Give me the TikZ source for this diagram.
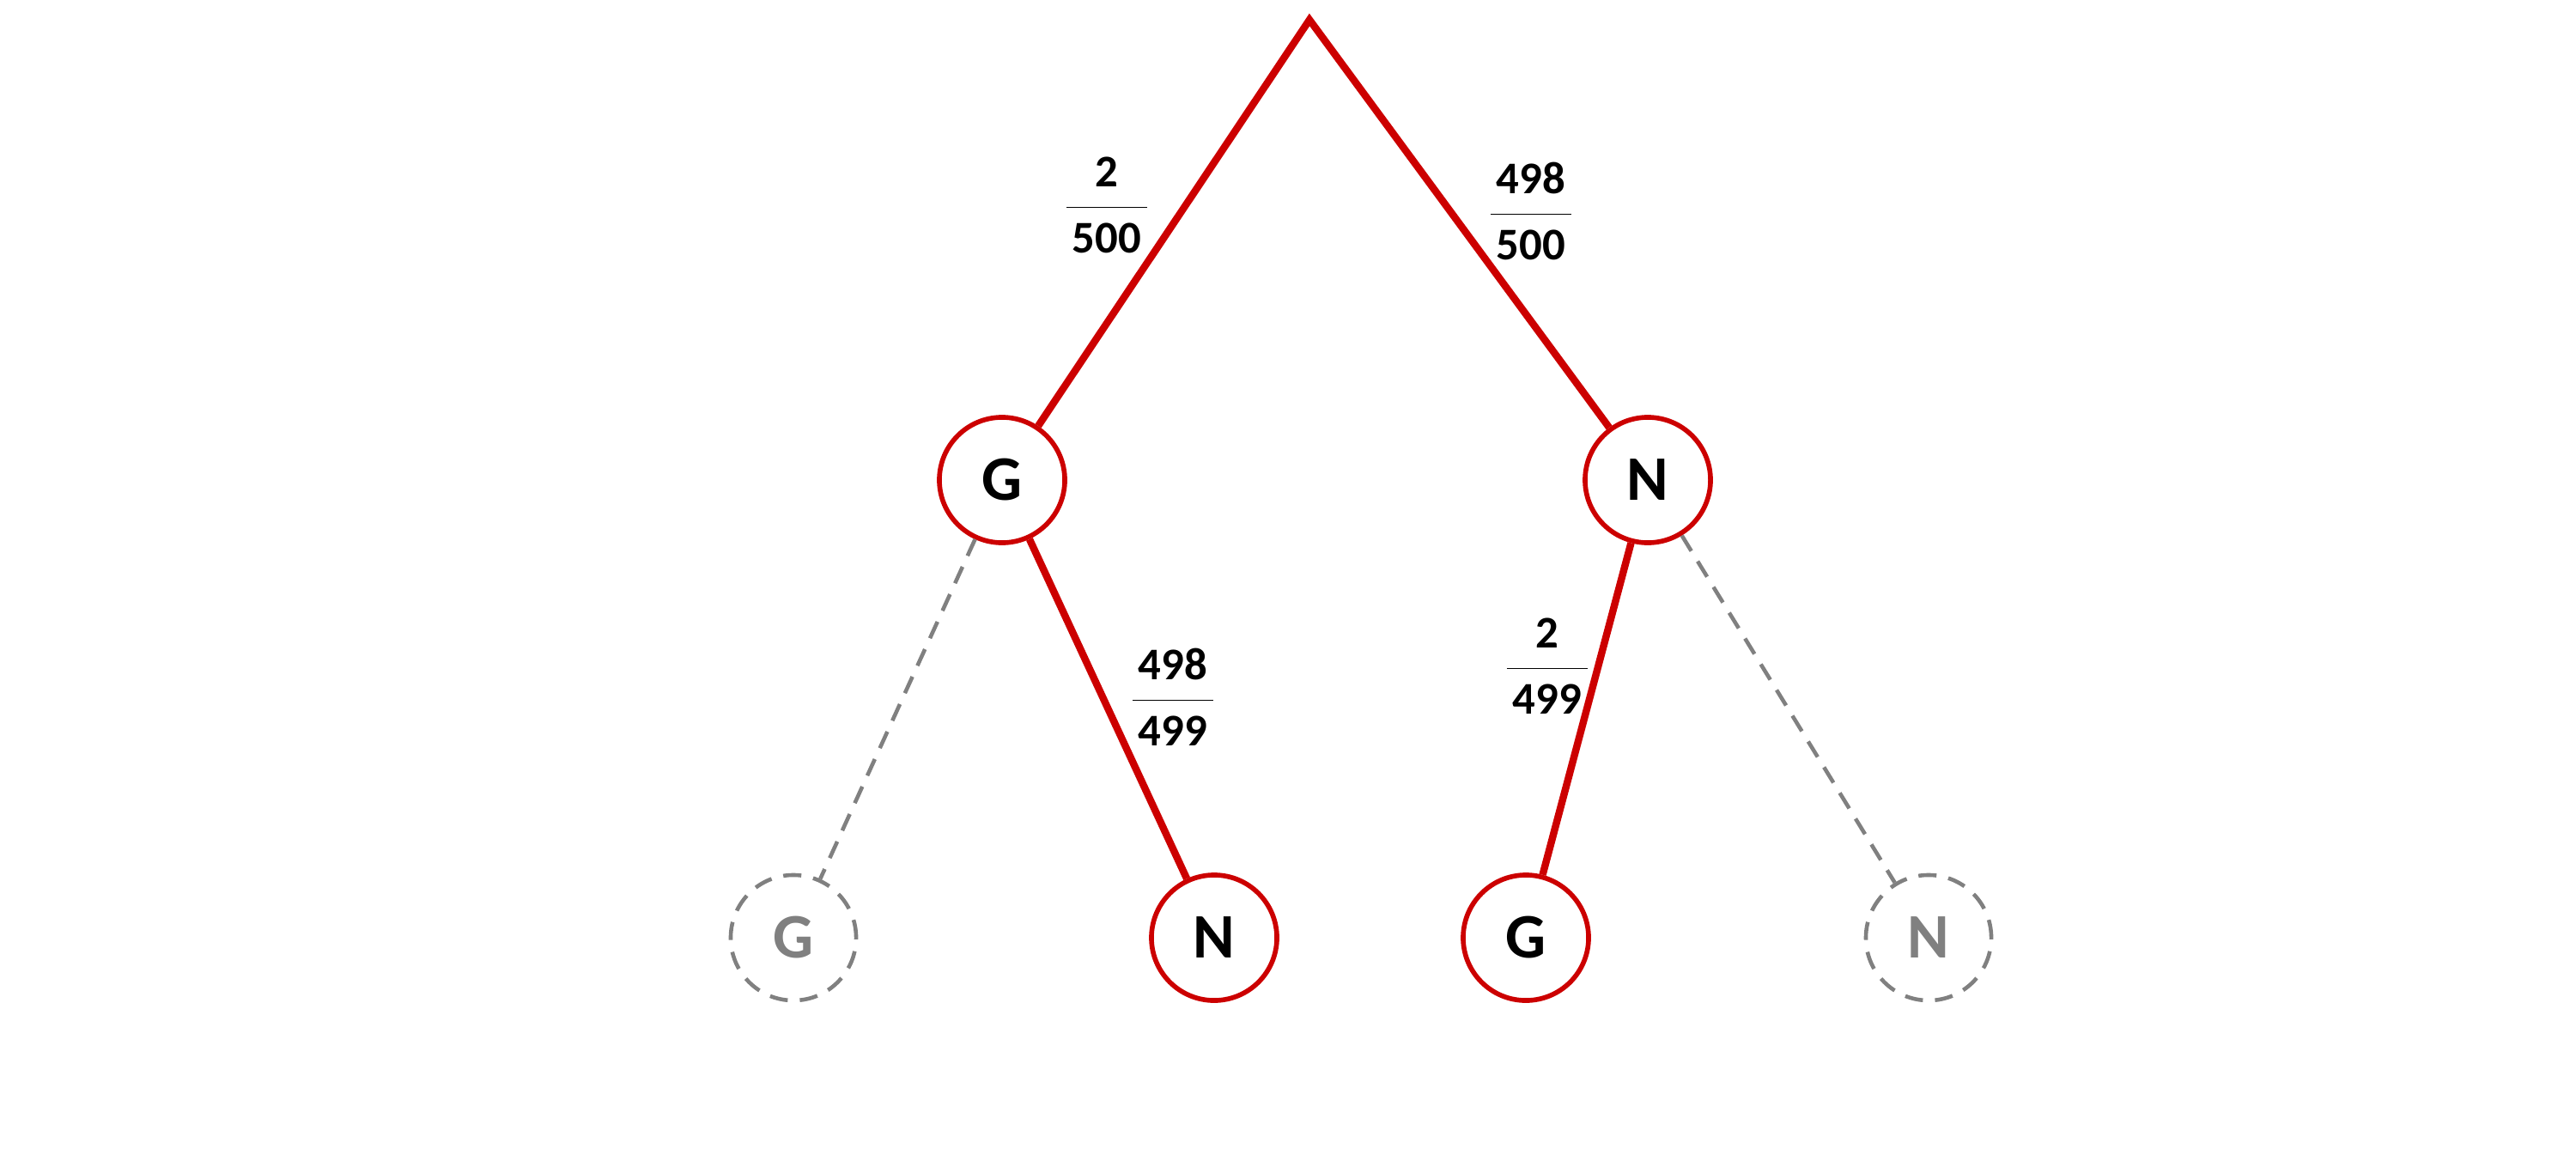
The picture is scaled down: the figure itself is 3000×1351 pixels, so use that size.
\documentclass[tikz,border=0pt]{standalone}
\usepackage{fontspec}
\setmainfont{Carlito}
\newcommand{\myfr}[2]{\renewcommand{\arraystretch}{1.1}\setlength{\tabcolsep}{2pt}\begin{tabular}{c}#1\\[1pt]\hline\rule{0pt}{15pt}#2\end{tabular}}
\begin{document}
\begin{tikzpicture}[x=0.01cm,y=-0.01cm,
  rnode/.style={circle,draw=red!80!black,line width=1.6pt,minimum size=1.46cm,inner sep=0pt,font=\fontsize{21}{24}\selectfont\bfseries,fill=white},
  gnode/.style={circle,draw=gray,dash pattern=on 6pt off 4pt,line width=1.3pt,minimum size=1.46cm,inner sep=0pt,font=\fontsize{21}{24}\selectfont\bfseries,text=gray},
  redline/.style={draw=red!80!black,line width=2.4pt},
  grayline/.style={draw=gray,dash pattern=on 6pt off 4pt,line width=1.3pt},
  frac/.style={font=\fontsize{15}{17}\selectfont\bfseries,inner sep=0pt}]
\useasboundingbox (0,0) rectangle (3000,1351);
\coordinate (top) at (1525,23);
\node[rnode] (G1) at (1167,559) {G};
\node[rnode] (N1) at (1919,559) {N};
\node[gnode] (G2) at (924,1092) {G};
\node[rnode] (N2) at (1414,1092) {N};
\node[rnode] (G3) at (1777,1092) {G};
\node[gnode] (N3) at (2246,1092) {N};
\draw[redline,line join=miter] (G1) -- (top) -- (N1);
\draw[redline] (G1) -- (N2);
\draw[redline] (N1) -- (G3);
\draw[grayline] (G1) -- (G2);
\draw[grayline] (N1) -- (N3);
\node[frac] (f1) at (1289,243) {\myfr{2}{500}};
\node[frac] (f2) at (1783,251) {\myfr{498}{500}};
\node[frac] (f3) at (1366,817) {\myfr{498}{499}};
\node[frac] (f4) at (1802,780) {\myfr{2}{499}};
\end{tikzpicture}
\end{document}
